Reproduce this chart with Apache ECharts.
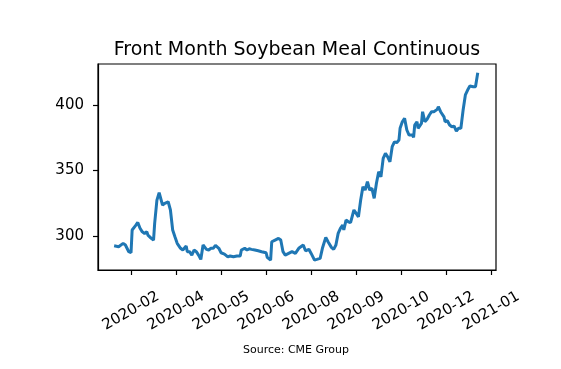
<!DOCTYPE html>
<html>
<head>
<meta charset="utf-8">
<script src="https://cdn.jsdelivr.net/npm/echarts@6/dist/echarts.min.js"></script>
<style>
html,body{margin:0;padding:0;background:#fff;}
#chart{width:561px;height:369px;}
</style>
</head>
<body>
<div id="chart"></div>
<script>
const titleText = 'Front Month Soybean Meal Continuous';
const sourceText = 'Source: CME Group';

const dates = [
'2020-02-10','2020-02-14','2020-02-18','2020-02-20','2020-02-23','2020-02-25','2020-02-26','2020-02-29',
'2020-03-02','2020-03-04','2020-03-06','2020-03-08','2020-03-10','2020-03-11','2020-03-14','2020-03-16',
'2020-03-17','2020-03-19','2020-03-21','2020-03-22','2020-03-24','2020-03-26','2020-03-29','2020-03-31',
'2020-04-02','2020-04-04','2020-04-06','2020-04-09','2020-04-11','2020-04-14','2020-04-15','2020-04-17',
'2020-04-19','2020-04-21','2020-04-23','2020-04-25','2020-04-27','2020-04-29',
'2020-05-02','2020-05-04','2020-05-06','2020-05-08','2020-05-10','2020-05-13','2020-05-15','2020-05-18',
'2020-05-21','2020-05-23','2020-05-26','2020-05-29',
'2020-06-01','2020-06-02','2020-06-05','2020-06-07','2020-06-09','2020-06-11','2020-06-14','2020-06-17',
'2020-06-20','2020-06-24','2020-06-25','2020-06-28','2020-06-29',
'2020-07-02','2020-07-05','2020-07-07','2020-07-09','2020-07-11','2020-07-14','2020-07-17','2020-07-18',
'2020-07-20','2020-07-23','2020-07-27','2020-07-29',
'2020-08-01','2020-08-03','2020-08-06','2020-08-08','2020-08-11','2020-08-13','2020-08-16','2020-08-18',
'2020-08-21','2020-08-23','2020-08-25','2020-08-27','2020-08-29','2020-08-31',
'2020-09-01','2020-09-03','2020-09-05','2020-09-07','2020-09-10','2020-09-12','2020-09-14','2020-09-16',
'2020-09-18','2020-09-20','2020-09-22','2020-09-24','2020-09-26','2020-09-28','2020-09-30',
'2020-10-02','2020-10-04','2020-10-06','2020-10-08','2020-10-10','2020-10-12','2020-10-14','2020-10-16',
'2020-10-18','2020-10-20','2020-10-21','2020-10-23','2020-10-25','2020-10-27','2020-10-29',
'2020-11-01','2020-11-02','2020-11-03','2020-11-05','2020-11-06','2020-11-09','2020-11-10','2020-11-12',
'2020-11-14','2020-11-16','2020-11-18','2020-11-20','2020-11-23','2020-11-24','2020-11-26','2020-11-29',
'2020-11-30',
'2020-12-02','2020-12-04','2020-12-06','2020-12-08','2020-12-10','2020-12-12','2020-12-14','2020-12-16',
'2020-12-18','2020-12-20','2020-12-22','2020-12-25','2020-12-27','2020-12-28','2020-12-29'
];

const prices = [
292.3,291.6,294.2,292.9,287.8,287.0,304.4,307.7,
310.2,305.7,303.0,301.8,303.0,300.5,298.0,296.7,
309.5,327.3,332.9,333.7,323.5,324.8,326.0,319.7,
304.4,299.2,294.2,290.4,289.1,292.1,287.8,287.8,
285.2,289.1,287.8,285.2,281.9,292.9,
289.6,289.1,290.4,290.4,292.7,290.4,287.0,286.0,
283.9,284.5,283.9,284.5,
284.5,289.1,290.4,289.1,290.0,289.6,289.1,288.5,
287.8,287.0,283.5,281.4,295.4,
296.7,298.0,296.7,287.8,285.2,286.5,287.8,288.5,
286.5,290.4,292.9,288.5,
289.6,286.5,281.4,281.9,282.7,290.4,298.8,295.4,
291.1,289.6,292.9,301.8,305.7,308.2,
304.4,312.0,310.7,310.0,319.7,317.1,314.5,327.3,
337.5,335.0,341.3,335.0,336.3,328.6,340.1,
349.0,345.1,359.2,363.0,360.4,356.6,368.1,371.9,
371.2,373.2,382.2,387.2,389.8,380.9,377.0,
377.0,375.3,384.7,387.2,382.2,386.0,394.9,387.2,
389.1,392.4,394.9,394.9,396.7,398.7,394.9,391.0,
387.2,
388.0,384.7,383.4,383.9,380.1,382.2,382.2,396.2,
407.7,411.5,414.5,414.0,414.0,412.8,424.7
];

const xTickDates = ['2020-02-25','2020-04-05','2020-05-15','2020-06-24','2020-08-03','2020-09-12','2020-10-22','2020-12-01','2021-01-10'];
const xTickLabels = ['2020-02','2020-04','2020-05','2020-06','2020-08','2020-09','2020-10','2020-12','2021-01'];
const yTicks = [300, 350, 400];

function toTime(s) {
  const p = s.split(/[-T:]/).map(Number);
  return Date.UTC(p[0], p[1] - 1, p[2], p[3] || 0, p[4] || 0, 0);
}

const seriesData = dates.map((d, i) => [toTime(d), prices[i]]);
const xTickTimes = xTickDates.map(toTime);

const chart = echarts.init(document.getElementById('chart'), null, {renderer: 'canvas'});
const font = 'DejaVu Sans';
chart.setOption({
  animation: false,
  backgroundColor: '#ffffff',
  textStyle: {fontFamily: font},
  title: [
    {text: titleText, left: 292, top: 36, textAlign: 'center',
     textStyle: {fontFamily: font, fontSize: 19, fontWeight: 'normal', color: '#000'}},
    {text: sourceText, left: 291, top: 340, textAlign: 'center',
     textStyle: {fontFamily: font, fontSize: 11, fontWeight: 'normal', color: '#000'}}
  ],
  grid: {left: 98, right: 65, top: 64, bottom: 99, show: true, borderColor: '#000', borderWidth: 1.2, backgroundColor: 'transparent'},
  xAxis: {
    type: 'value',
    min: toTime('2020-01-26T16:00'),
    max: toTime('2021-01-14T05:00'),
    axisLine: {show: true, lineStyle: {color: '#000', width: 1.2}},
    axisTick: {show: true, length: 5, lineStyle: {color: '#000', width: 1.2}, customValues: xTickTimes},
    axisLabel: {
      customValues: xTickTimes,
      rotate: 30, align: 'center', verticalAlign: 'middle', margin: 41,
      fontFamily: font, fontSize: 15, color: '#000',
      formatter: function (v) {
        let best = 0, bd = Infinity;
        xTickTimes.forEach((t, i) => { const d = Math.abs(t - v); if (d < bd) { bd = d; best = i; } });
        return xTickLabels[best];
      }
    },
    splitLine: {show: false}
  },
  yAxis: {
    type: 'value',
    min: 273.8,
    max: 431.4,
    axisLine: {show: true, lineStyle: {color: '#000', width: 1.2}},
    axisTick: {show: true, length: 5, lineStyle: {color: '#000', width: 1.2}, customValues: yTicks},
    axisLabel: {customValues: yTicks, margin: 14, fontFamily: font, fontSize: 15, color: '#000'},
    splitLine: {show: false}
  },
  series: [{
    type: 'line',
    data: seriesData,
    showSymbol: false,
    symbol: 'none',
    lineStyle: {color: '#1f77b4', width: 3},
    itemStyle: {color: '#1f77b4'}
  }]
});
</script>
</body>
</html>
